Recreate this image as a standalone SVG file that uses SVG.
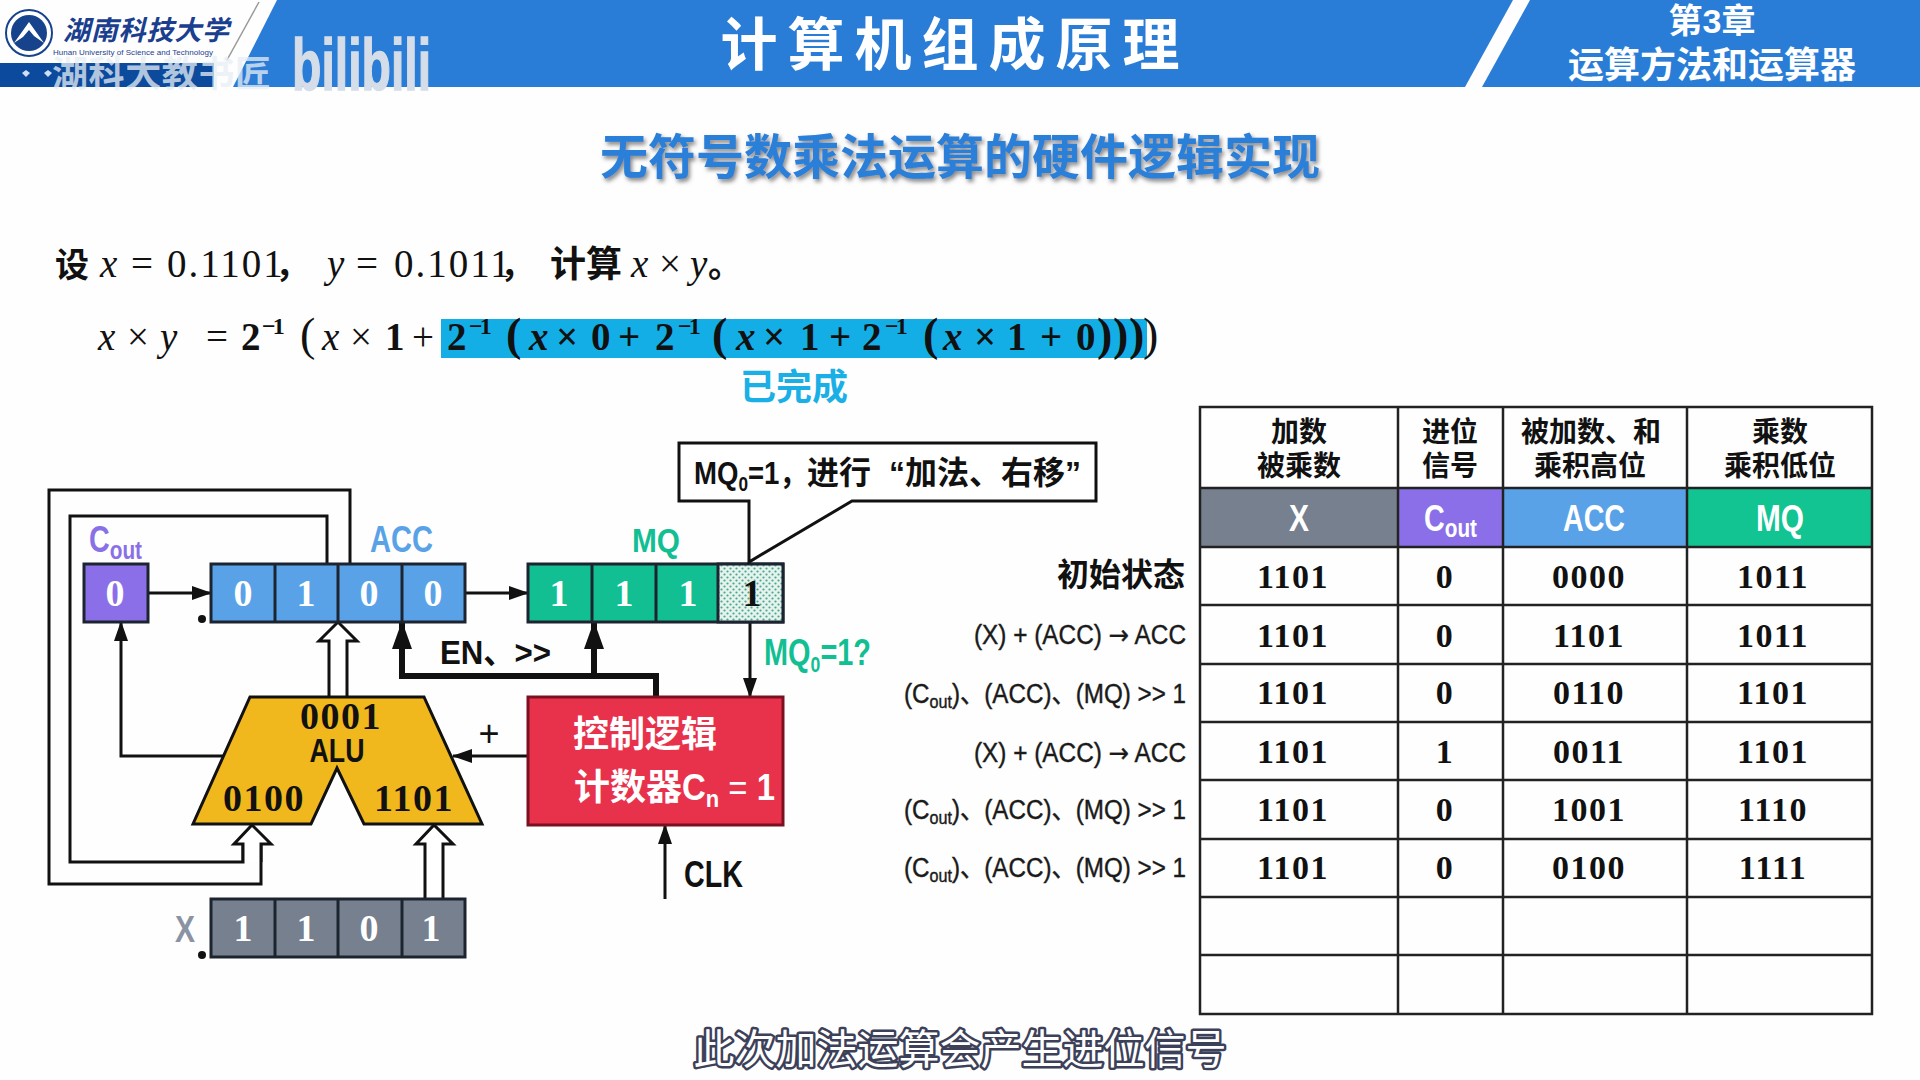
<svg xmlns="http://www.w3.org/2000/svg" width="1920" height="1080" viewBox="0 0 1920 1080">
<style>
text{font-family:"Liberation Sans","Noto Sans CJK SC",sans-serif}
.b{font-weight:700}
.m{text-anchor:middle}
.e{text-anchor:end}
.s{font-family:"Liberation Serif","Noto Sans CJK SC",serif;font-weight:700}
.d{font-family:"Liberation Serif",serif;font-weight:700;font-size:38px;text-anchor:middle;fill:#fff}
.t{font-family:"Liberation Serif",serif;font-weight:700;font-size:34px;letter-spacing:1.5px;text-anchor:middle;fill:#111}
.h{font-weight:700;font-size:28px;text-anchor:middle;fill:#111}
.c{font-weight:700;font-size:36px;text-anchor:middle;fill:#fff}
.l{font-size:27px;fill:#1a1a1a;stroke:#1a1a1a;stroke-width:.4;text-anchor:end}
.ar{font-family:"DejaVu Sans",sans-serif}
.cell{stroke:#1c2430;stroke-width:3}
.ln{fill:none;stroke:#111;stroke-width:3}
.hl{fill:#fff;stroke:#111;stroke-width:3}
.tb{fill:none;stroke:#222;stroke-width:2.5}
.f{font-family:"Liberation Serif",serif;font-size:39px;fill:#111}
.fb{font-weight:700}
.i{font-style:italic}
</style>
<defs>
<pattern id="dots" width="6" height="6" patternUnits="userSpaceOnUse"><rect width="6" height="6" fill="#e4f3ee"/><circle cx="1.5" cy="1.5" r="1.1" fill="#4aa58c"/><circle cx="4.5" cy="4.5" r="1.1" fill="#4aa58c"/></pattern>
<marker id="a" markerUnits="userSpaceOnUse" markerWidth="20" markerHeight="14" refX="19" refY="7" orient="auto"><path d="M0 0L20 7L0 14z" fill="#111"/></marker>
<marker id="k" markerUnits="userSpaceOnUse" markerWidth="28" markerHeight="20" refX="27" refY="10" orient="auto"><path d="M0 0L28 10L0 20z" fill="#111"/></marker>
<filter id="sh" x="-5%" y="-20%" width="110%" height="150%"><feDropShadow dx="2" dy="3" stdDeviation="2" flood-color="#555" flood-opacity=".7"/></filter>
</defs>
<rect width="1920" height="1080" fill="#fefefe"/>
<g id="header">
<path d="M277 0H1513L1465 87H233z" fill="#2a7dd6"/>
<path d="M1530 0H1920V87H1482z" fill="#2a7dd6"/>
<path d="M259 2L227 60" stroke="#999" stroke-width="1.5" fill="none"/>
<rect y="63" width="214" height="24" fill="#0b4a9c"/>
<circle cx="29" cy="33" r="23" fill="#fff" stroke="#17428c" stroke-width="2"/>
<circle cx="29" cy="33" r="18" fill="#17428c"/>
<path d="M14 43L29 22L44 43L34 36L29 30L23 37z" fill="#fff"/>
<text x="63" y="40" font-size="27" class="b" fill="#1b3f8f" font-style="italic" textLength="166">湖南科技大学</text>
<text x="53" y="55" font-size="8" fill="#1b3f8f" textLength="160">Hunan University of Science and Technology</text>
<path d="M22 73l4-3l4 3l-4 4zM44 73l4-3l4 3l-4 4z" fill="#cfe0f5"/>
<text x="52" y="87" font-size="36" class="b" fill="#e8eef5" fill-opacity=".75" textLength="219">湖科大教书匠</text>
<text x="292" y="90" font-size="72" class="b" fill="#d5dde8" stroke="#d5dde8" stroke-width="1.5" textLength="139" lengthAdjust="spacingAndGlyphs">bilibili</text>
<text x="955" y="65" font-size="57" class="b m" fill="#fff" letter-spacing="10">计算机组成原理</text>
<text x="1712" y="33" font-size="34" class="b m" fill="#fff">第3章</text>
<text x="1712" y="78" font-size="36" class="b m" fill="#fff">运算方法和运算器</text>
</g>
<text id="title" x="960" y="174" font-size="48" class="b m" fill="#2a7fd8" filter="url(#sh)">无符号数乘法运算的硬件逻辑实现</text>
<g id="problem">
<text x="55" y="277" font-size="34" class="b" fill="#111">设</text>
<text class="f"><tspan class="i" x="100" y="277">x</tspan><tspan x="131">=</tspan><tspan x="167" letter-spacing="2">0.1101</tspan></text>
<text x="275" y="277" font-size="34" class="b" fill="#111">，</text>
<text class="f"><tspan class="i" x="327" y="277">y</tspan><tspan x="356">=</tspan><tspan x="394" letter-spacing="2">0.1011</tspan></text>
<text x="500" y="277" font-size="34" class="b" fill="#111">，</text>
<text x="550" y="277" font-size="36" class="b" fill="#111">计算</text>
<text class="f"><tspan class="i" x="631" y="277">x</tspan><tspan x="659">×</tspan><tspan class="i" x="690">y</tspan></text>
<text x="708" y="277" font-size="34" class="b" fill="#111">。</text>
</g>
<g id="formula">
<rect x="441" y="319" width="706" height="39" fill="#14aee6"/>
<text class="f"><tspan class="i" x="98" y="350">x</tspan><tspan x="127">×</tspan><tspan class="i" x="160">y</tspan><tspan x="206">=</tspan><tspan class="fb" x="241">2</tspan><tspan class="fb" x="262" y="334" font-size="24" letter-spacing="-3">−1</tspan><tspan x="300" y="350" font-size="46">(</tspan><tspan class="i" x="322">x</tspan><tspan x="350">×</tspan><tspan class="fb" x="385">1</tspan><tspan x="412">+</tspan></text>
<text class="f fb"><tspan x="447" y="350">2</tspan><tspan x="469" y="334" font-size="24" letter-spacing="-3">−1</tspan><tspan x="506" y="350" font-size="46">(</tspan><tspan class="i" x="529">x</tspan><tspan x="556">×</tspan><tspan x="591">0</tspan><tspan x="618">+</tspan><tspan x="655">2</tspan><tspan x="678" y="334" font-size="24" letter-spacing="-3">−1</tspan><tspan x="712" y="350" font-size="46">(</tspan><tspan class="i" x="736">x</tspan><tspan x="763">×</tspan><tspan x="800">1</tspan><tspan x="829">+</tspan><tspan x="862">2</tspan><tspan x="885" y="334" font-size="24" letter-spacing="-3">−1</tspan><tspan x="923" y="350" font-size="46">(</tspan><tspan class="i" x="943">x</tspan><tspan x="974">×</tspan><tspan x="1007">1</tspan><tspan x="1040">+</tspan><tspan x="1076">0</tspan><tspan x="1097" font-size="46">)</tspan><tspan x="1113" font-size="46">)</tspan><tspan x="1129" font-size="46">)</tspan></text>
<text class="f" x="1143" y="350" style="font-size:46px">)</text>
<text x="794" y="400" font-size="36" class="b m" fill="#1ab0e6">已完成</text>
</g>
<g id="connectors">
<path class="ln" d="M350 564V490H49V884H261V844"/>
<path class="ln" d="M327 564V516H70V862H243V844"/>
<path class="hl" d="M243 862V844H234L252 825L271 844H261V862" stroke-linejoin="miter"/>
<path class="hl" d="M329 697V641H319L338 622L357 641H347V697"/>
<path class="hl" d="M425 899V844H416L434 825L453 844H443V899"/>
<path class="ln" d="M224 756H121V622" marker-end="url(#a)"/>
<path class="ln" d="M148 593H211" marker-end="url(#a)"/>
<path class="ln" d="M465 593H528" marker-end="url(#a)"/>
<path class="ln" d="M528 756H453" marker-end="url(#a)"/>
<path class="ln" d="M750 622V697" marker-end="url(#a)"/>
<path class="ln" d="M665 899V825" marker-end="url(#a)"/>
<path fill="none" stroke="#111" stroke-width="6" d="M656 697V676H402V622" marker-end="url(#k)"/>
<path fill="none" stroke="#111" stroke-width="6" d="M594 676V622" marker-end="url(#k)"/>
</g>
<g id="cout">
<text x="89" y="552" font-size="36" class="b" fill="#8a70e6" textLength="53" lengthAdjust="spacingAndGlyphs">C<tspan font-size="26" dy="7">out</tspan></text>
<rect class="cell" x="84" y="564" width="64" height="58" fill="#8b6fe8"/>
<text class="d" x="115" y="606">0</text>
</g>
<g id="acc">
<text x="370" y="552" font-size="36" class="b" fill="#5aa2e8" textLength="63" lengthAdjust="spacingAndGlyphs">ACC</text>
<rect class="cell" x="211" y="564" width="254" height="58" fill="#5aa2e8"/>
<path class="cell" d="M275 564V622M338 564V622M402 564V622" fill="none"/>
<text class="d" x="243" y="606">0</text><text class="d" x="306" y="606">1</text><text class="d" x="369" y="606">0</text><text class="d" x="433" y="606">0</text>
</g>
<g id="mq">
<text x="632" y="552" font-size="34" class="b" fill="#12bf92" textLength="48" lengthAdjust="spacingAndGlyphs">MQ</text>
<rect class="cell" x="528" y="564" width="255" height="58" fill="#12bf92"/>
<rect class="cell" x="718" y="564" width="65" height="58" fill="url(#dots)"/>
<path class="cell" d="M592 564V622M656 564V622" fill="none"/>
<text class="d" x="559" y="606">1</text><text class="d" x="624" y="606">1</text><text class="d" x="688" y="606">1</text><text class="d" x="752" y="606" style="fill:#111">1</text>
</g>
<g id="callout">
<path d="M679 443H1096V501H852L749 562V501H679z" fill="#fff" stroke="#111" stroke-width="3"/>
<text x="694" y="484" font-size="32" class="b" fill="#111" textLength="113" lengthAdjust="spacingAndGlyphs">MQ<tspan font-size="20" dy="7">0</tspan><tspan dy="-7">=1，</tspan></text>
<text y="484" font-size="32" class="b" fill="#111"><tspan x="807">进行</tspan><tspan x="889">“加法、右移”</tspan></text>
</g>
<text id="mq0q" x="764" y="665" font-size="36" class="b" fill="#12bf92" textLength="107" lengthAdjust="spacingAndGlyphs">MQ<tspan font-size="22" dy="7">0</tspan><tspan dy="-7">=1?</tspan></text>
<text id="en" x="440" y="664" font-size="33" class="b" fill="#111" textLength="111" lengthAdjust="spacingAndGlyphs">EN、&gt;&gt;</text>
<g id="alu">
<path d="M250 697H424L482 824H364L337 768L311 824H193z" fill="#f0b81c" stroke="#111" stroke-width="3"/>
<text class="s m" x="341" y="729" font-size="38" letter-spacing="1.5" fill="#111">0001</text>
<text class="b m" x="337" y="762" font-size="33" fill="#111" textLength="55" lengthAdjust="spacingAndGlyphs">ALU</text>
<text class="s m" x="264" y="811" font-size="38" letter-spacing="1.5" fill="#111">0100</text>
<text class="s m" x="414" y="811" font-size="38" letter-spacing="1.5" fill="#111">1101</text>
</g>
<text id="plus" x="489" y="746" font-size="36" class="m" fill="#111">+</text>
<g id="control">
<rect x="528" y="697" width="255" height="128" fill="#e8324c" stroke="#7a1020" stroke-width="3"/>
<text x="573" y="747" font-size="36" class="b" fill="#fff">控制逻辑</text>
<text x="574" y="800" font-size="36" class="b" fill="#fff">计数器</text>
<text x="682" y="800" font-size="36" fill="#fff" class="b" textLength="93" lengthAdjust="spacingAndGlyphs">C<tspan font-size="24" dy="7">n</tspan><tspan dy="-7" font-weight="400"> = </tspan><tspan>1</tspan></text>
</g>
<text id="clk" x="684" y="887" font-size="36" class="b" fill="#111" textLength="59" lengthAdjust="spacingAndGlyphs">CLK</text>
<g id="x">
<text x="175" y="942" font-size="36" class="b" fill="#8a93a3" textLength="20" lengthAdjust="spacingAndGlyphs">X</text>
<rect class="cell" x="211" y="899" width="254" height="58" fill="#76808f"/>
<path class="cell" d="M275 899V957M338 899V957M402 899V957" fill="none"/>
<text class="d" x="243" y="941">1</text><text class="d" x="306" y="941">1</text><text class="d" x="369" y="941">0</text><text class="d" x="431" y="941">1</text>
</g>
<g id="dots-marks"><circle cx="202" cy="619" r="4" fill="#111"/><circle cx="202" cy="955" r="4" fill="#111"/></g>
<g id="labels">
<text x="1185" y="586" font-size="32" class="b e" fill="#111">初始状态</text>
<text class="l" x="1186" y="644" textLength="212" lengthAdjust="spacingAndGlyphs">(X) + (ACC) <tspan class="ar">→</tspan> ACC</text>
<text class="l" x="1186" y="703" textLength="282" lengthAdjust="spacingAndGlyphs">(C<tspan font-size="18" dy="5">out</tspan><tspan dy="-5">)、(ACC)、(MQ) &gt;&gt; 1</tspan></text>
<text class="l" x="1186" y="762" textLength="212" lengthAdjust="spacingAndGlyphs">(X) + (ACC) <tspan class="ar">→</tspan> ACC</text>
<text class="l" x="1186" y="819" textLength="282" lengthAdjust="spacingAndGlyphs">(C<tspan font-size="18" dy="5">out</tspan><tspan dy="-5">)、(ACC)、(MQ) &gt;&gt; 1</tspan></text>
<text class="l" x="1186" y="877" textLength="282" lengthAdjust="spacingAndGlyphs">(C<tspan font-size="18" dy="5">out</tspan><tspan dy="-5">)、(ACC)、(MQ) &gt;&gt; 1</tspan></text>
</g>
<g id="table">
<rect x="1200" y="488" width="198" height="59" fill="#76808f"/>
<rect x="1398" y="488" width="105" height="59" fill="#8a6fe8"/>
<rect x="1503" y="488" width="184" height="59" fill="#5aa2e8"/>
<rect x="1687" y="488" width="185" height="59" fill="#12c492"/>
<path class="tb" d="M1200 407H1872V1014H1200zM1398 407V1014M1503 407V1014M1687 407V1014M1200 488H1872M1200 547H1872M1200 605H1872M1200 664H1872M1200 722H1872M1200 780H1872M1200 839H1872M1200 897H1872M1200 955H1872"/>
<text class="h" x="1299" y="442">加数</text><text class="h" x="1299" y="476">被乘数</text>
<text class="h" x="1450" y="442">进位</text><text class="h" x="1450" y="476">信号</text>
<text class="h" x="1591" y="442">被加数、和</text><text class="h" x="1590" y="476">乘积高位</text>
<text class="h" x="1780" y="442">乘数</text><text class="h" x="1780" y="476">乘积低位</text>
<text class="c" x="1299" y="531" textLength="20" lengthAdjust="spacingAndGlyphs">X</text>
<text class="c" x="1424" y="531" style="text-anchor:start" textLength="53" lengthAdjust="spacingAndGlyphs">C<tspan font-size="26" dy="6">out</tspan></text>
<text class="c" x="1563" y="531" style="text-anchor:start" textLength="62" lengthAdjust="spacingAndGlyphs">ACC</text>
<text class="c" x="1756" y="531" style="text-anchor:start" textLength="48" lengthAdjust="spacingAndGlyphs">MQ</text>
<text class="t" x="1293" y="588">1101</text><text class="t" x="1445" y="588">0</text><text class="t" x="1589" y="588">0000</text><text class="t" x="1773" y="588">1011</text>
<text class="t" x="1293" y="647">1101</text><text class="t" x="1445" y="647">0</text><text class="t" x="1589" y="647">1101</text><text class="t" x="1773" y="647">1011</text>
<text class="t" x="1293" y="704">1101</text><text class="t" x="1445" y="704">0</text><text class="t" x="1589" y="704">0110</text><text class="t" x="1773" y="704">1101</text>
<text class="t" x="1293" y="763">1101</text><text class="t" x="1445" y="763">1</text><text class="t" x="1589" y="763">0011</text><text class="t" x="1773" y="763">1101</text>
<text class="t" x="1293" y="821">1101</text><text class="t" x="1445" y="821">0</text><text class="t" x="1589" y="821">1001</text><text class="t" x="1773" y="821">1110</text>
<text class="t" x="1293" y="879">1101</text><text class="t" x="1445" y="879">0</text><text class="t" x="1589" y="879">0100</text><text class="t" x="1773" y="879">1111</text>
</g>
<text id="caption" x="960" y="1064" font-size="41" class="m" fill="#fff" stroke="#3c4058" stroke-width="5" paint-order="stroke" stroke-linejoin="round">此次加法运算会产生进位信号</text>
</svg>
